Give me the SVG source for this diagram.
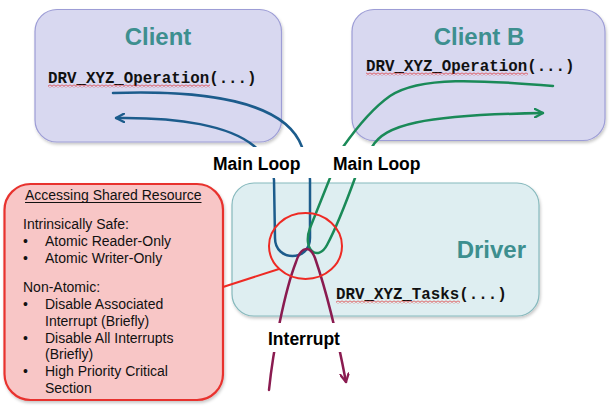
<svg xmlns="http://www.w3.org/2000/svg" width="614" height="407" viewBox="0 0 614 407">
<style>
.client{fill:#d8d8f0;stroke:#9d9dd6;stroke-width:1.2;filter:url(#shadow)}
.driver{fill:#deeef1;stroke:#86b9bd;stroke-width:1.2;filter:url(#shadow)}
.note{fill:#f8c6c6;stroke:#e8332f;stroke-width:2.2;filter:url(#shadow)}
.title{font-family:"Liberation Sans",Arial,sans-serif;font-weight:bold;font-size:24px;fill:#3d8f8f}
.code{font-family:"Liberation Mono","Courier New",monospace;font-weight:bold;font-size:15.8px;fill:#111}
.lbl{font-family:"Liberation Sans",Arial,sans-serif;font-weight:bold;font-size:17.5px;fill:#000}
.txt{font-family:"Liberation Sans",Arial,sans-serif;font-size:14px;fill:#111}
.lblbg{fill:#fff}
.blue{fill:none;stroke:#1c5c8c;stroke-width:2.5;stroke-linecap:round}
.green{fill:none;stroke:#1a8a58;stroke-width:2.5;stroke-linecap:round}
.purple{fill:none;stroke:#8a1b50;stroke-width:2.5;stroke-linecap:round}
.redline{fill:none;stroke:#ee2a24;stroke-width:2}
</style>
<defs>
<filter id="shadow" x="-10%" y="-10%" width="120%" height="125%">
<feDropShadow dx="1" dy="2" stdDeviation="1.5" flood-color="#000" flood-opacity="0.22"/>
</filter>
<pattern id="squig" width="4" height="3" patternUnits="userSpaceOnUse">
<path d="M0,2.4 L2,0.6 L4,2.4" fill="none" stroke="#e02020" stroke-width="0.8"/>
</pattern>
<marker id="arrBlue" viewBox="0 0 10 10" refX="9" refY="5" markerWidth="10" markerHeight="10" markerUnits="userSpaceOnUse" orient="auto">
<path d="M1,0.8 L9,5 L1,9.2" fill="none" stroke="#1c5c8c" stroke-width="2.3" stroke-linecap="round" stroke-linejoin="round"/>
</marker>
<marker id="arrGreen" viewBox="0 0 10 10" refX="9" refY="5" markerWidth="10" markerHeight="10" markerUnits="userSpaceOnUse" orient="auto">
<path d="M1,0.8 L9,5 L1,9.2" fill="none" stroke="#1a8a58" stroke-width="2.3" stroke-linecap="round" stroke-linejoin="round"/>
</marker>
<marker id="arrPurple" viewBox="0 0 10 10" refX="9" refY="5" markerWidth="10" markerHeight="10" markerUnits="userSpaceOnUse" orient="auto">
<path d="M1,0.8 L9,5 L1,9.2" fill="none" stroke="#8a1b50" stroke-width="2.3" stroke-linecap="round" stroke-linejoin="round"/>
</marker>
</defs>

<g id="client">
<rect class="client" x="35" y="9.5" width="246.5" height="132.5" rx="22"/>
<text class="title" x="158" y="45" text-anchor="middle">Client</text>
<text class="code" x="48" y="83">DRV_XYZ_Operation(...)</text>
<rect x="48" y="84.5" width="162" height="3" fill="url(#squig)"/>
</g>

<g id="clientB">
<rect class="client" x="352" y="9.5" width="253" height="131" rx="22"/>
<text class="title" x="479" y="45" text-anchor="middle">Client B</text>
<text class="code" x="366" y="71">DRV_XYZ_Operation(...)</text>
<rect x="366" y="72.5" width="162" height="3" fill="url(#squig)"/>
</g>

<g id="driver">
<rect class="driver" x="232" y="183" width="307" height="133" rx="22"/>
<text class="title" x="526" y="258" text-anchor="end">Driver</text>
<text class="code" x="336" y="299">DRV_XYZ_Tasks(...)</text>
<rect x="336" y="300.5" width="124" height="3" fill="url(#squig)"/>
</g>

<g id="note">
<rect class="note" x="4.5" y="184" width="218.5" height="216" rx="26"/>
<text class="txt" x="25" y="200">Accessing Shared Resource</text>
<line x1="25" y1="202.5" x2="201.5" y2="202.5" stroke="#111" stroke-width="1"/>
<text class="txt" x="23" y="229">Intrinsically Safe:</text>
<text class="txt" x="23" y="246">•</text><text class="txt" x="45" y="246">Atomic Reader-Only</text>
<text class="txt" x="23" y="263">•</text><text class="txt" x="45" y="263">Atomic Writer-Only</text>
<text class="txt" x="23" y="292">Non-Atomic:</text>
<text class="txt" x="23" y="309">•</text><text class="txt" x="45" y="309">Disable Associated</text>
<text class="txt" x="45" y="326">Interrupt (Briefly)</text>
<text class="txt" x="23" y="343">•</text><text class="txt" x="45" y="343">Disable All Interrupts</text>
<text class="txt" x="45" y="359">(Briefly)</text>
<text class="txt" x="23" y="376">•</text><text class="txt" x="45" y="376">High Priority Critical</text>
<text class="txt" x="45" y="393">Section</text>
</g>

<g id="connectors">
<path class="blue" d="M113,93 C 200,90 285,100 302,147 C 308,160 310,170 310,180 L 310,238 C 310,262 275,262 275,238 L 274,180 C 273,165 265,155 254,146 C 230,126 180,117 116,118" marker-end="url(#arrBlue)"/>
<path class="green" d="M553,86 C 480,80 420,76 390,96 C 370,110 355,130 343,147 L 330,178 L 310,228 C 302,250 318,262 327,245 C 335,230 347,200 355,178 L 372,147 C 385,125 420,115 543,113" marker-end="url(#arrGreen)"/>
<path class="purple" d="M269,390 C 273,350 285,290 296,262 C 301,246 310,245 315,258 C 326,290 338,340 346,382" marker-end="url(#arrPurple)"/>
<line class="redline" x1="223" y1="287" x2="279" y2="269"/>
<ellipse class="redline" cx="305.5" cy="246" rx="36.5" ry="33"/>
</g>

<g id="labelMainLoop1">
<rect class="lblbg" x="206" y="147" width="106" height="31"/>
<text class="lbl" x="213" y="170">Main Loop</text>
</g>
<g id="labelMainLoop2">
<rect class="lblbg" x="323" y="146" width="107" height="32"/>
<text class="lbl" x="333" y="170">Main Loop</text>
</g>
<g id="labelInterrupt">
<rect class="lblbg" x="262" y="323" width="88" height="29"/>
<text class="lbl" x="268" y="345">Interrupt</text>
</g>
</svg>
